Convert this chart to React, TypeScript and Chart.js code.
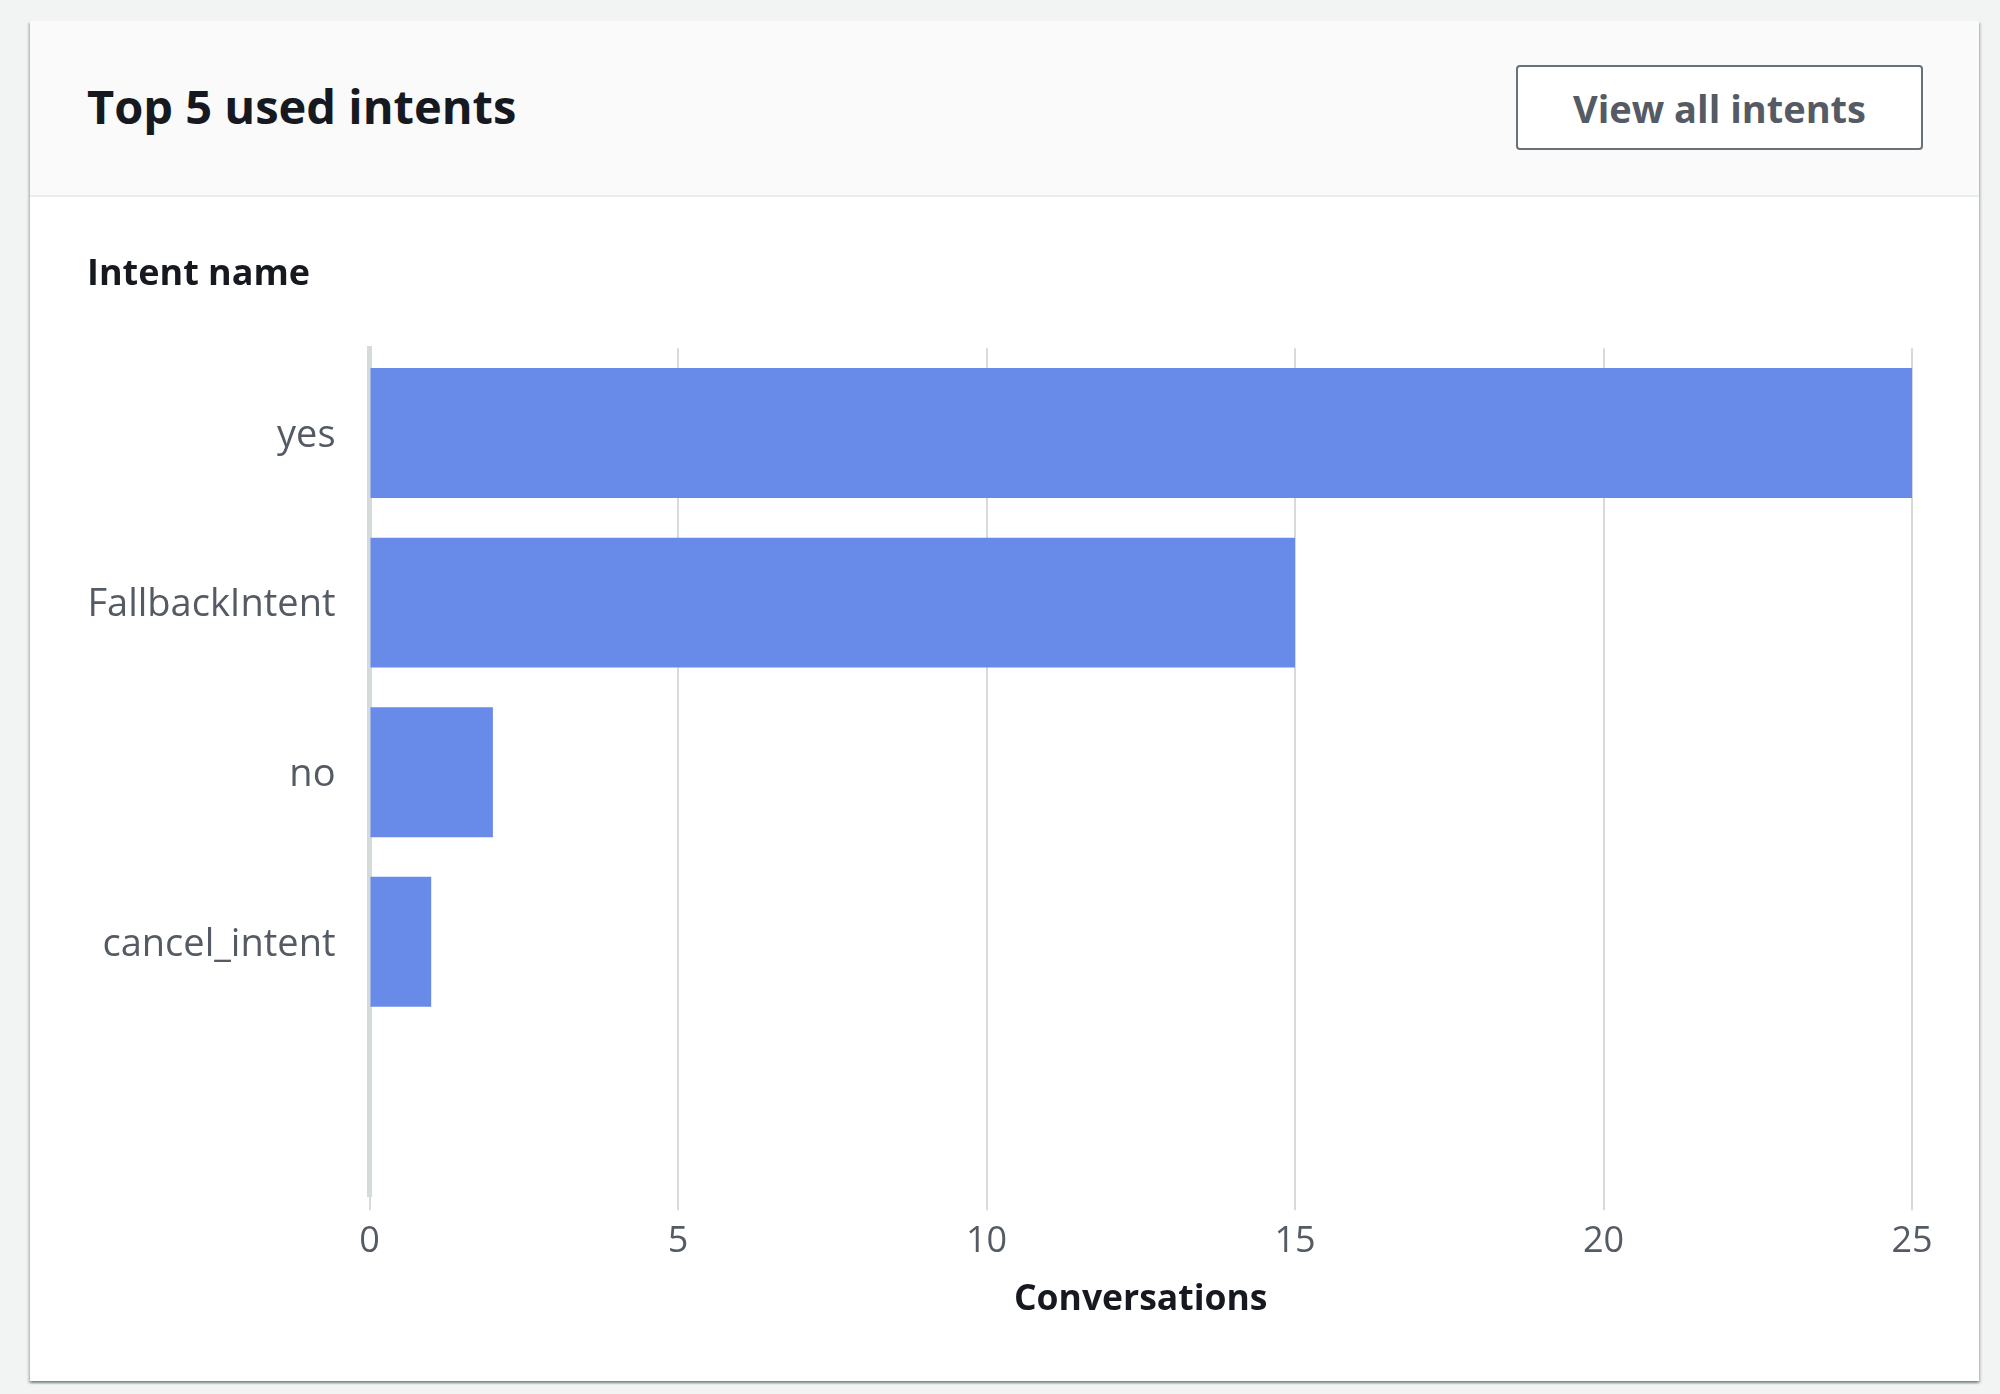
import React, { useEffect, useRef } from "react";
import { Chart, registerables } from "chart.js";

Chart.register(...registerables);

// ---- data ----
const intents: string[] = ["yes", "FallbackIntent", "no", "cancel_intent", ""];
const conversations: (number | null)[] = [25, 15, 2, 1, null];
const xTickValues: number[] = [0, 5, 10, 15, 20, 25];

const cardTitle = "Top 5 used intents";
const buttonLabel = "View all intents";
const yAxisTitle = "Intent name";
const xAxisTitle = "Conversations";

const FONT = '"Open Sans", "Noto Sans", sans-serif';

export default function App() {
  const canvasRef = useRef<HTMLCanvasElement | null>(null);

  useEffect(() => {
    let chart: Chart | null = null;
    let cancelled = false;
    const make = () => {
      if (cancelled || !canvasRef.current) return;
      chart = new Chart(canvasRef.current, {
        type: "bar",
        data: {
          labels: intents,
          datasets: [
            {
              label: xAxisTitle,
              data: conversations,
              backgroundColor: "#688ae8",
              borderWidth: 0,
              categoryPercentage: 1,
              barPercentage: 0.766,
            },
          ],
        },
        options: {
          indexAxis: "y",
          responsive: false,
          maintainAspectRatio: false,
          animation: false,
          layout: { padding: { left: 57, right: 67, top: 0, bottom: 66.8 } },
          plugins: {
            legend: { display: false },
            tooltip: { enabled: false },
            title: {
              display: true,
              text: yAxisTitle,
              align: "start",
              color: "#16191f",
              font: { family: FONT, size: 36, weight: "bold", lineHeight: 1.2 },
              padding: { top: 56, bottom: 52 },
            },
          },
          scales: {
            x: {
              type: "linear",
              min: 0,
              max: 25,
              afterBuildTicks: (scale: any) => {
                scale.ticks = xTickValues.map((v) => ({ value: v }));
              },
              ticks: {
                color: "#545b64",
                font: { family: FONT, size: 36, lineHeight: 1.0 },
                padding: 13.4,
              },
              grid: {
                color: "#d5dbdb",
                lineWidth: 2,
                drawTicks: true,
                tickLength: 14,
                tickColor: "#d5dbdb",
              },
              border: { display: false },
              title: {
                display: true,
                text: xAxisTitle,
                color: "#16191f",
                font: { family: FONT, size: 35.5, weight: "bold", lineHeight: 0.8 },
                padding: { top: 12.8, bottom: 0 },
              },
            },
            y: {
              z: 1,
              grid: { display: false, drawTicks: false },
              border: { display: true, color: "#d5dbdb", width: 5 },
              ticks: {
                color: "#545b64",
                font: { family: FONT, size: 38, lineHeight: 1.2 },
                padding: 34,
                labelOffset: 3,
              },
              afterFit: (scale: any) => {
                scale.width = 282.5;
              },
            },
          },
        },
      } as any);
    };
    const fontsReady = (document as any).fonts
      ? Promise.all([
          (document as any).fonts.load(`bold 36px ${FONT}`),
          (document as any).fonts.load(`36px ${FONT}`),
        ]).catch(() => null)
      : Promise.resolve(null);
    fontsReady.then(make);
    return () => {
      cancelled = true;
      if (chart) chart.destroy();
    };
  }, []);

  return (
    <div
      style={{
        position: "absolute",
        left: 0,
        top: 0,
        width: 2000,
        height: 1394,
        background: "#f2f3f3",
        overflow: "hidden",
        fontFamily: FONT,
      }}
    >
      <div
        style={{
          position: "absolute",
          left: 30,
          top: 21,
          width: 1949,
          height: 1360,
          background: "#ffffff",
          boxShadow:
            "0 2px 2px 0 rgba(0,28,36,0.3), 2px 2px 2px 0 rgba(0,28,36,0.15), -2px 2px 2px 0 rgba(0,28,36,0.15)",
        }}
      >
        <div
          style={{
            position: "absolute",
            left: 0,
            top: 0,
            width: 1949,
            height: 176,
            boxSizing: "border-box",
            background: "#fafafa",
            borderBottom: "2px solid #eaeded",
          }}
        />
        <div
          style={{
            position: "absolute",
            left: 57,
            top: 62,
            fontSize: 47,
            lineHeight: "47px",
            fontWeight: 700,
            color: "#16191f",
            whiteSpace: "nowrap",
          }}
        >
          {cardTitle}
        </div>
        <div
          style={{
            position: "absolute",
            left: 1486,
            top: 44,
            width: 407,
            height: 85,
            boxSizing: "border-box",
            border: "2px solid #687078",
            borderRadius: 4,
            background: "#ffffff",
            display: "flex",
            alignItems: "center",
            justifyContent: "center",
            fontSize: 38,
            fontWeight: 700,
            color: "#545b64",
            whiteSpace: "nowrap",
          }}
        >
          {buttonLabel}
        </div>
        <canvas
          ref={canvasRef}
          width={1949}
          height={1184}
          style={{ position: "absolute", left: 0, top: 176, width: 1949, height: 1184 }}
        />
      </div>
    </div>
  );
}
